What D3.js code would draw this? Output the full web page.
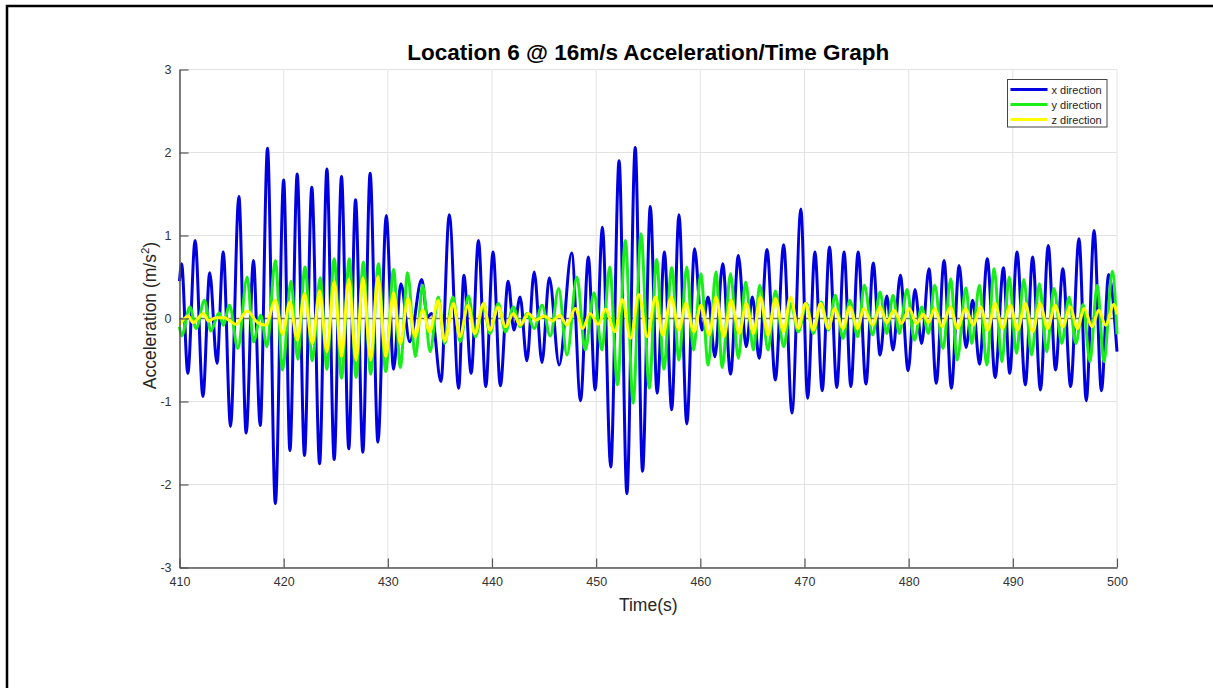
<!DOCTYPE html>
<html>
<head>
<meta charset="utf-8">
<script src="https://cdn.jsdelivr.net/npm/d3@7"></script>
<style>
  body { margin: 0; background: #fff; }
  text { font-family: "Liberation Sans", Arial, Helvetica, sans-serif; }
</style>
</head>
<body>
<div id="canvas"></div>
<script>
// peaks / troughs, [time (s), acceleration (m/s^2)]
const xDirection = [
  [410.0, 0.45], [410.2, 0.66], [410.8, -0.66], [411.5, 0.94], [412.25, -0.94], [412.9, 0.55],
  [413.6, -0.54], [414.2, 0.80], [414.9, -1.30], [415.7, 1.47], [416.4, -1.38], [417.1, 0.70],
  [417.75, -1.29], [418.45, 2.05], [419.2, -2.23], [420.0, 1.67], [420.6, -1.59], [421.3, 1.74],
  [422.0, -1.65], [422.7, 1.58], [423.45, -1.75], [424.15, 1.80], [424.85, -1.70], [425.55, 1.71],
  [426.25, -1.57], [426.9, 1.43], [427.6, -1.61], [428.3, 1.75], [429.05, -1.49], [429.85, 1.24],
  [430.55, -0.61], [431.25, 0.42], [432.1, -0.28], [433.25, 0.47], [433.8, 0.02], [434.2, 0.06],
  [435.1, -0.76], [435.9, 1.25], [436.8, -0.84], [437.3, 0.52], [438.0, -0.66], [438.7, 0.94],
  [439.4, -0.82], [440.1, 0.80], [440.8, -0.81], [441.55, 0.45], [442.1, -0.14], [442.7, 0.26],
  [443.35, -0.51], [444.05, 0.56], [444.8, -0.53], [445.5, 0.49], [446.45, -0.56], [447.65, 0.79],
  [448.5, -0.99], [449.25, 0.74], [449.9, -0.86], [450.6, 1.10], [451.4, -1.79], [452.2, 1.90],
  [452.95, -2.11], [453.75, 2.06], [454.45, -1.84], [455.2, 1.35], [455.85, -0.90], [456.55, 0.80],
  [457.25, -1.10], [457.95, 1.25], [458.7, -1.27], [459.45, 0.84], [460.15, -0.14], [460.75, 0.26],
  [461.4, -0.46], [462.15, 0.66], [462.9, -0.67], [463.65, 0.76], [464.4, -0.34], [465.0, 0.26],
  [465.65, -0.48], [466.4, 0.83], [467.2, -0.74], [468.0, 0.89], [468.8, -1.14], [469.65, 1.32],
  [470.3, -0.96], [471.0, 0.80], [471.7, -0.87], [472.4, 0.86], [473.1, -0.83], [473.8, 0.80],
  [474.45, -0.82], [475.15, 0.80], [475.9, -0.79], [476.6, 0.67], [477.25, -0.44], [477.9, 0.27],
  [478.5, -0.38], [479.2, 0.52], [479.95, -0.63], [480.6, 0.35], [481.25, -0.30], [481.95, 0.60],
  [482.65, -0.78], [483.4, 0.70], [484.1, -0.84], [484.85, 0.64], [485.5, -0.35], [486.15, 0.22],
  [486.8, -0.55], [487.55, 0.72], [488.3, -0.71], [489.1, 0.61], [489.7, -0.66], [490.4, 0.80],
  [491.2, -0.80], [491.9, 0.74], [492.65, -0.86], [493.4, 0.88], [494.1, -0.62], [494.8, 0.60],
  [495.55, -0.82], [496.35, 0.96], [497.05, -0.99], [497.8, 1.06], [498.5, -0.87], [499.2, 0.53],
  [500.0, -0.40]
]

const yDirection = [
  [410.0, -0.10], [410.2, -0.21], [411.0, 0.14], [411.6, -0.12], [412.4, 0.22], [413.0, -0.15],
  [413.8, 0.07], [414.2, -0.08], [414.8, 0.16], [415.6, -0.36], [416.5, 0.50], [417.1, -0.28],
  [417.8, 0.04], [418.4, -0.34], [419.2, 0.70], [419.9, -0.62], [420.7, 0.45], [421.35, -0.49],
  [422.05, 0.62], [422.75, -0.51], [423.5, 0.49], [424.15, -0.61], [424.85, 0.72], [425.55, -0.72],
  [426.3, 0.72], [426.95, -0.71], [427.65, 0.68], [428.35, -0.67], [429.1, 0.66], [429.8, -0.64],
  [430.55, 0.59], [431.2, -0.59], [431.9, 0.55], [432.65, -0.46], [433.35, 0.40], [434.05, -0.40],
  [434.85, 0.26], [435.45, -0.30], [436.25, 0.26], [436.95, -0.28], [437.75, 0.27], [438.4, -0.22],
  [439.2, 0.18], [439.8, -0.18], [440.6, 0.18], [441.3, -0.16], [442.05, 0.14], [442.7, -0.10],
  [443.35, 0.06], [444.05, -0.12], [444.8, 0.16], [445.6, -0.21], [446.4, 0.36], [447.2, -0.44],
  [448.15, 0.50], [448.95, -0.38], [449.8, 0.31], [450.55, -0.38], [451.3, 0.62], [452.05, -0.80],
  [452.8, 0.94], [453.55, -1.02], [454.3, 1.02], [455.1, -0.84], [455.8, 0.71], [456.5, -0.61],
  [457.25, 0.61], [457.95, -0.50], [458.7, 0.62], [459.35, -0.38], [460.05, 0.54], [460.75, -0.56],
  [461.5, 0.56], [462.1, -0.59], [462.9, 0.54], [463.65, -0.48], [464.35, 0.44], [465.1, -0.38],
  [465.7, 0.40], [466.5, -0.38], [467.2, 0.33], [468.0, -0.34], [468.7, 0.18], [469.4, -0.16],
  [470.2, 0.18], [470.85, -0.18], [471.6, 0.20], [472.3, -0.14], [472.95, 0.28], [473.7, -0.24],
  [474.35, 0.22], [475.1, -0.22], [475.75, 0.40], [476.55, -0.20], [477.25, 0.32], [477.9, -0.18],
  [478.5, 0.28], [479.1, -0.18], [479.85, 0.35], [480.55, -0.26], [481.25, 0.14], [481.9, -0.18],
  [482.5, 0.40], [483.3, -0.36], [484.05, 0.48], [484.65, -0.50], [485.5, 0.37], [486.05, -0.30],
  [486.8, 0.40], [487.5, -0.56], [488.2, 0.60], [488.95, -0.52], [489.65, 0.50], [490.35, -0.42],
  [491.05, 0.47], [491.8, -0.44], [492.55, 0.42], [493.25, -0.40], [493.95, 0.36], [494.7, -0.30],
  [495.4, 0.26], [496.05, -0.30], [496.75, 0.17], [497.4, -0.52], [498.1, 0.40], [498.75, -0.52],
  [499.55, 0.57], [500.0, -0.19]
]

const zDirection = [
  [410.0, -0.08], [410.85, 0.03], [411.3, -0.05], [412.3, 0.06], [412.8, -0.03], [413.5, 0.01],
  [414.3, 0.01], [415.4, -0.07], [416.5, 0.09], [417.5, -0.05], [418.3, -0.08], [419.2, 0.22],
  [419.9, -0.19], [420.6, 0.20], [421.3, -0.26], [422.0, 0.30], [422.75, -0.30], [423.45, 0.33],
  [424.15, -0.40], [424.85, 0.45], [425.55, -0.46], [426.25, 0.47], [426.95, -0.50], [427.6, 0.49],
  [428.35, -0.50], [429.05, 0.51], [429.8, -0.46], [430.55, 0.31], [431.2, -0.30], [431.95, 0.24],
  [432.6, -0.22], [433.35, 0.10], [434.0, -0.16], [434.85, 0.22], [435.45, -0.27], [436.3, 0.18],
  [436.9, -0.22], [437.7, 0.16], [438.35, -0.18], [439.2, 0.18], [439.8, -0.14], [440.6, 0.14],
  [441.3, -0.10], [442.05, 0.06], [442.7, -0.08], [443.5, 0.06], [444.2, -0.02], [445.0, 0.03],
  [445.8, -0.03], [446.5, 0.04], [447.2, -0.08], [448.0, 0.12], [448.7, -0.12], [449.4, 0.06],
  [450.2, -0.07], [450.9, 0.11], [451.8, -0.16], [452.5, 0.23], [453.3, -0.24], [454.1, 0.29],
  [454.9, -0.22], [455.7, 0.26], [456.4, -0.20], [457.2, 0.26], [457.95, -0.14], [458.6, 0.18],
  [459.4, -0.16], [460.05, 0.16], [460.85, -0.20], [461.5, 0.26], [462.25, -0.22], [462.95, 0.22],
  [463.75, -0.18], [464.4, 0.18], [465.1, -0.18], [465.75, 0.26], [466.5, -0.20], [467.2, 0.24],
  [468.0, -0.16], [468.65, 0.26], [469.4, -0.12], [470.1, 0.18], [470.85, -0.14], [471.55, 0.18],
  [472.3, -0.12], [472.9, 0.12], [473.7, -0.12], [474.35, 0.14], [475.1, -0.12], [475.7, 0.12],
  [476.55, -0.08], [477.25, 0.14], [477.9, -0.05], [478.6, 0.10], [479.3, -0.06], [480.05, 0.12],
  [480.75, -0.06], [481.4, 0.05], [481.9, -0.05], [482.5, 0.12], [483.2, -0.10], [484.0, 0.14],
  [484.7, -0.12], [485.45, 0.12], [486.2, -0.08], [486.9, 0.14], [487.6, -0.14], [488.3, 0.18],
  [489.0, -0.12], [489.75, 0.16], [490.45, -0.14], [491.2, 0.18], [491.9, -0.16], [492.6, 0.18],
  [493.35, -0.12], [494.05, 0.16], [494.8, -0.10], [495.5, 0.14], [496.2, -0.12], [496.85, 0.12],
  [497.6, -0.10], [498.25, 0.10], [498.9, -0.08], [499.7, 0.17], [500.0, 0.05]
]

const xTicks = [410, 420, 430, 440, 450, 460, 470, 480, 490, 500]
const yTicks = [-3, -2, -1, 0, 1, 2, 3]
const seriesNames = ["x direction", "y direction", "z direction"]
const seriesColors = ["#0000e0", "#19ee19", "#ffff00"]

const canvasWidth = 1213
const canvasHeight = 688
const margin = {top: 69.5, right: 96, bottom: 120.5, left: 179.5}
const width = canvasWidth - margin.left - margin.right
const height = canvasHeight - margin.top - margin.bottom

var svg = d3.select("#canvas")
    .append("svg")
    .attr("width", canvasWidth)
    .attr("height", canvasHeight)

svg.append("rect").attr("width", canvasWidth).attr("height", canvasHeight).attr("fill", "#fff")

// frame round the figure (only top and left are inside the picture)
svg.append("path")
    .attr("d", "M7,688 V6 H1213")
    .attr("fill", "none")
    .attr("stroke", "#000")
    .attr("stroke-width", 2.5)

var g = svg.append("g")
    .attr("transform", "translate(" + margin.left + "," + margin.top + ")")

var x = d3.scaleLinear().domain([410, 500]).range([0, width])
var y = d3.scaleLinear().domain([-3, 3]).range([height, 0])

// grid
g.append("g").selectAll("line")
    .data(xTicks)
    .enter().append("line")
    .attr("x1", d => x(d)).attr("x2", d => x(d))
    .attr("y1", 0).attr("y2", height)
    .attr("stroke", "#e3e3e3")
g.append("g").selectAll("line")
    .data(yTicks)
    .enter().append("line")
    .attr("x1", 0).attr("x2", width)
    .attr("y1", d => y(d)).attr("y2", d => y(d))
    .attr("stroke", "#e3e3e3")

// zero line
g.append("line")
    .attr("x1", 0).attr("x2", width)
    .attr("y1", y(0)).attr("y2", y(0))
    .attr("stroke", "#707070")
    .attr("stroke-width", 1.5)

var line = d3.line()
    .x(d => x(d[0]))
    .y(d => y(d[1]))
    .curve(d3.curveMonotoneX)

var allSeries = [xDirection, yDirection, zDirection]
allSeries.forEach(function(s, i) {
    g.append("path")
        .datum(s)
        .attr("fill", "none")
        .attr("stroke", seriesColors[i])
        .attr("stroke-width", 3)
        .attr("stroke-linejoin", "round")
        .attr("d", line)
})

// axes, ticks point inwards
var xAxis = g.append("g")
    .attr("transform", "translate(0," + height + ")")
    .call(d3.axisBottom(x).tickValues(xTicks).tickFormat(d => String(d))
        .tickSize(-9).tickPadding(10).tickSizeOuter(0))
var yAxis = g.append("g")
    .call(d3.axisLeft(y).tickValues(yTicks).tickFormat(d => String(d))
        .tickSize(-9).tickPadding(8).tickSizeOuter(0))

;[xAxis, yAxis].forEach(function(a) {
    a.select(".domain").attr("stroke", "#555").attr("stroke-width", 1.5)
    a.selectAll(".tick line").attr("stroke", "#555").attr("stroke-width", 1.2)
    a.selectAll(".tick text")
        .attr("fill", "#333")
        .style("font-size", "12.5px")
        .style("font-family", "'Liberation Sans', Arial, sans-serif")
})

// titles
svg.append("text")
    .attr("x", margin.left + width / 2)
    .attr("y", 60)
    .attr("text-anchor", "middle")
    .style("font-size", "22.5px")
    .style("font-weight", "bold")
    .attr("fill", "#000")
    .text("Location 6 @ 16m/s Acceleration/Time Graph")

svg.append("text")
    .attr("x", margin.left + width / 2)
    .attr("y", 611)
    .attr("text-anchor", "middle")
    .style("font-size", "17.5px")
    .attr("fill", "#262626")
    .text("Time(s)")

var yl = svg.append("text")
    .attr("transform", "translate(156," + (margin.top + height / 2 - 3) + ") rotate(-90)")
    .attr("text-anchor", "middle")
    .style("font-size", "17.5px")
    .attr("fill", "#262626")
yl.append("tspan").text("Acceleration (m/s")
yl.append("tspan").attr("dy", -7).style("font-size", "11.5px").text("2")
yl.append("tspan").attr("dy", 7).text(")")

// legend
var legend = svg.append("g").attr("transform", "translate(1007.5,79.5)")
legend.append("rect")
    .attr("width", 99.5).attr("height", 47.5)
    .attr("fill", "#fff")
    .attr("stroke", "#444")
seriesNames.forEach(function(name, i) {
    var ly = 10 + i * 15
    legend.append("line")
        .attr("x1", 3).attr("x2", 40)
        .attr("y1", ly).attr("y2", ly)
        .attr("stroke", seriesColors[i])
        .attr("stroke-width", 3)
    legend.append("text")
        .attr("x", 44).attr("y", ly + 4)
        .style("font-size", "11px")
        .attr("fill", "#222")
        .text(name)
})
</script>
</body>
</html>
